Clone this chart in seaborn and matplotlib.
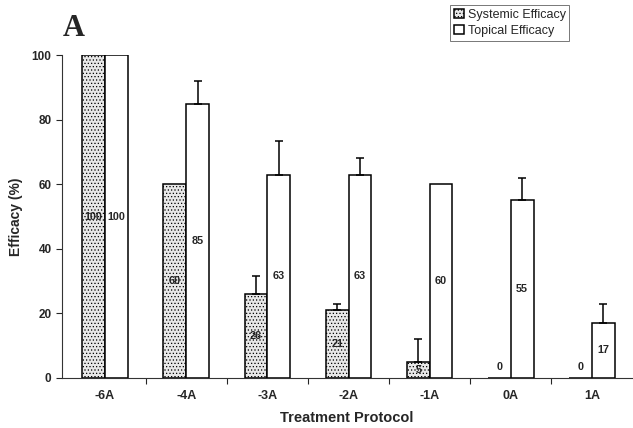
import matplotlib
matplotlib.use("Agg")
import matplotlib.pyplot as plt
import seaborn as sns
import pandas as pd
import numpy as np

categories = ["-6A", "-4A", "-3A", "-2A", "-1A", "0A", "1A"]
systemic = [100, 60, 26, 21, 5, 0, 0]
topical = [100, 85, 63, 63, 60, 55, 17]
systemic_err = [0, 0, 5.6, 1.8, 7, 0, 0]
topical_err = [0, 7, 10.4, 5, 0, 7, 6]
series_names = ["Systemic Efficacy", "Topical Efficacy"]

df = pd.DataFrame({
    "Protocol": categories * 2,
    "Efficacy": systemic + topical,
    "Series": [series_names[0]] * len(categories) + [series_names[1]] * len(categories),
})

sns.set_theme(style="ticks")
plt.rcParams["font.family"] = ["Liberation Sans", "DejaVu Sans"]
plt.rcParams["hatch.linewidth"] = 0.5
plt.rcParams["hatch.color"] = "#555555"

fig = plt.figure(figsize=(6.33, 4.28), dpi=100)
ax = fig.add_axes([0.098, 0.117, 0.900, 0.754])

sns.barplot(data=df, x="Protocol", y="Efficacy", hue="Series", order=categories,
            hue_order=series_names,
            palette={series_names[0]: "#e8e8e8", series_names[1]: "white"},
            width=0.56, edgecolor="black", linewidth=1.1, errorbar=None,
            legend=False, ax=ax)

for p in ax.containers[0]:
    p.set_hatch(".....")

errs = [systemic_err, topical_err]
for cont, err in zip(ax.containers, errs):
    for bar, e in zip(cont, err):
        cx = bar.get_x() + bar.get_width() / 2
        h = bar.get_height()
        if e > 0:
            ax.errorbar([cx], [h], yerr=[[0], [e]], fmt="none", ecolor="black",
                        elinewidth=1.1, capsize=3, capthick=1.1, zorder=3)
        ypos = h / 2 if h > 0 else 3.5
        ax.text(cx, ypos, f"{h:g}", ha="center", va="center", fontsize=7.8,
                fontweight="bold", zorder=4,
                bbox=dict(boxstyle="square,pad=0.05", fc="none", ec="none"))

ax.set_ylim(0, 100)
ax.set_xlim(-0.53, 6.49)
ax.set_yticks([0, 20, 40, 60, 80, 100])
ax.tick_params(axis="y", labelsize=8.5, length=4, width=0.8, direction="out")
for lab in ax.get_yticklabels():
    lab.set_fontweight("bold")
ax.set_xticks(range(len(categories)))
ax.set_xticklabels(categories, fontsize=9, fontweight="bold")
ax.tick_params(axis="x", length=0, pad=9)
ax.set_xticks(np.arange(len(categories) - 1) + 0.5, minor=True)
ax.tick_params(axis="x", which="minor", length=4, width=0.8, direction="out")

ax.set_xlabel("Treatment Protocol", fontsize=10.5, fontweight="bold", labelpad=6)
ax.set_ylabel("Efficacy (%)", fontsize=10, fontweight="bold", labelpad=6)

sns.despine(ax=ax)
for s in ["left", "bottom"]:
    ax.spines[s].set_linewidth(0.8)
    ax.spines[s].set_color("#333333")

leg = fig.legend(handles=[ax.containers[0], ax.containers[1]], labels=series_names,
                 loc="upper left", bbox_to_anchor=(450 / 633, 1 - 5 / 428),
                 fontsize=9, frameon=True, fancybox=False, handlelength=0.8,
                 handleheight=0.8, handletextpad=0.3, borderpad=0.3,
                 labelspacing=0.3, borderaxespad=0)
leg.get_frame().set_edgecolor("#555555")
leg.get_frame().set_linewidth(0.7)

fig.text(63 / 633, 1 - 36 / 428, "A", family=["Liberation Serif", "DejaVu Serif"],
         fontweight="bold", fontsize=22, ha="left", va="baseline")

fig.savefig("out.png", dpi=100)
